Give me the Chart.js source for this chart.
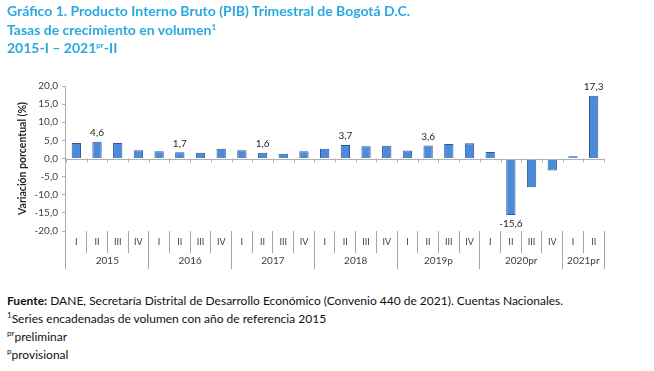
<!DOCTYPE html>
<html>
<head>
<meta charset="utf-8">
<script src="https://cdn.jsdelivr.net/npm/chart.js@4.4.1/dist/chart.umd.min.js"></script>
<style>
  body { margin: 0; background: #fff; width: 654px; height: 371px; overflow: hidden; position: relative; font-family: Lato, "Open Sans", sans-serif; }
  #title { position: absolute; left: 7px; top: 2px; color: #29a9e1; font-weight: bold; font-size: 14px; line-height: 18.5px; }
  #box { position: absolute; left: 0; top: 0; width: 654px; height: 285px; }
  #notes { position: absolute; left: 7px; top: 292px; color: #111; font-size: 12px; line-height: 18px; }
  sup { font-size: 8px; vertical-align: 5px; line-height: 0; }
</style>
</head>
<body>
<div id="box"><canvas id="pibChart"></canvas></div>
<div id="title">
  Gráfico 1. Producto Interno Bruto (PIB) Trimestral de Bogotá D.C.<br>
  Tasas de crecimiento en volumen<sup>1</sup><br>
  2015-I – 2021<sup>pr</sup>-II
</div>
<div id="notes">
  <b>Fuente:</b> DANE, Secretaría Distrital de Desarrollo Económico (Convenio 440 de 2021). Cuentas Nacionales.<br>
  <sup>1</sup>Series encadenadas de volumen con año de referencia 2015<br>
  <sup>pr</sup>preliminar<br>
  <sup>p</sup>provisional
</div>
<script>
// quarters 2015-I .. 2021-II
const quarters = ["I","II","III","IV","I","II","III","IV","I","II","III","IV","I","II","III","IV",
                  "I","II","III","IV","I","II","III","IV","I","II"];
const growth = [4.3, 4.6, 4.3, 2.3, 2.0, 1.7, 1.6, 2.7, 2.3, 1.6, 1.3, 2.0,
                2.7, 3.7, 3.4, 3.5, 2.2, 3.6, 4.0, 4.2, 1.8, -15.6, -7.9, -3.3, 0.6, 17.3];
const labelled = [1, 5, 9, 13, 17, 21, 25];
// year groups: [first quarter index, quarter count, label]
const years = [[0, 4, "2015"], [4, 4, "2016"], [8, 4, "2017"], [12, 4, "2018"],
               [16, 4, "2019p"], [20, 4, "2020pr"], [24, 2, "2021pr"]];
const yTicks = [-20, -15, -10, -5, 0, 5, 10, 15, 20];

const fmt = v => v.toFixed(1).replace('.', ',');
const axisGray = '#b0b0b0';
const sepGray = '#a6a6a6';

const yearTicks = [];
years.forEach(y => {
  yearTicks.push({ value: y[0], label: '' });
  yearTicks.push({ value: y[0] + y[1] / 2, label: y[2] });
});
yearTicks.push({ value: quarters.length, label: '' });

const extras = {
  id: 'extras',
  afterDatasetsDraw(chart) {
    const ctx = chart.ctx, xs = chart.scales.x, ys = chart.scales.y;
    const y0 = ys.getPixelForValue(0);
    ctx.save();
    ctx.strokeStyle = axisGray;
    ctx.lineWidth = 1;
    ctx.beginPath();
    ctx.moveTo(chart.chartArea.left, Math.round(y0) + 0.5);
    ctx.lineTo(chart.chartArea.right, Math.round(y0) + 0.5);
    for (let i = 0; i <= quarters.length; i++) {
      const x = Math.round(xs.getPixelForValue(i - 0.5)) + 0.5;
      ctx.moveTo(x, y0);
      ctx.lineTo(x, y0 + 4);
    }
    ctx.stroke();
    const meta = chart.getDatasetMeta(0);
    ctx.fillStyle = '#262626';
    ctx.font = '10px Lato, sans-serif';
    ctx.textAlign = 'center';
    labelled.forEach(i => {
      const bar = meta.data[i], v = growth[i];
      if (v >= 0) { ctx.textBaseline = 'bottom'; ctx.fillText(fmt(v), bar.x, bar.y - 4); }
      else { ctx.textBaseline = 'top'; ctx.fillText(fmt(v), bar.x, bar.y + 4); }
    });
    ctx.restore();
  }
};

const ctx = document.getElementById('pibChart').getContext('2d');
new Chart(ctx, {
  type: 'bar',
  data: {
    labels: quarters,
    datasets: [{
      data: growth,
      backgroundColor: function (c) {
        const bar = c.element;
        if (!bar || bar.x === undefined) return '#4d8ad8';
        const g = c.chart.ctx.createLinearGradient(bar.x - 5, 0, bar.x + 5, 0);
        g.addColorStop(0, '#6aa3ea');
        g.addColorStop(0.45, '#4f8bdc');
        g.addColorStop(1, '#2f68b8');
        return g;
      },
      borderColor: '#2b5a9c',
      borderWidth: 1,
      barPercentage: 0.45,
      categoryPercentage: 1
    }]
  },
  options: {
    responsive: true,
    maintainAspectRatio: false,
    animation: false,
    layout: { padding: { top: 86, left: 14, right: 50, bottom: 16 } },
    plugins: { legend: { display: false }, tooltip: { enabled: false } },
    scales: {
      y: {
        min: -20, max: 20,
        afterBuildTicks: s => { s.ticks = yTicks.map(v => ({ value: v })); },
        ticks: { callback: v => fmt(v), color: '#404040', font: { size: 10, family: 'Lato' }, padding: 4 },
        grid: { drawOnChartArea: false, tickLength: 4, color: axisGray },
        border: { color: axisGray },
        title: { display: true, text: 'Variación porcentual (%)', color: '#262626',
                 font: { size: 10.5, weight: 'bold', family: 'Lato' }, padding: 2 }
      },
      x: {
        position: 'bottom',
        afterFit: s => { s.height = 22; },
        ticks: { color: '#404040', font: { size: 9, family: 'Lato' }, padding: -16, maxRotation: 0, autoSkip: false },
        grid: { offset: true, drawOnChartArea: false, tickLength: 22, color: sepGray },
        border: { display: false }
      },
      x2: {
        type: 'linear',
        position: 'bottom',
        offset: false,
        min: 0, max: quarters.length,
        afterFit: s => { s.height = 16; },
        afterBuildTicks: s => { s.ticks = yearTicks.map(t => ({ value: t.value })); },
        ticks: {
          callback: (v) => { const t = yearTicks.find(t => t.value === v); return t ? t.label : ''; },
          color: '#404040', font: { size: 10, family: 'Lato' }, padding: -14, maxRotation: 0, autoSkip: false
        },
        grid: {
          offset: false, drawOnChartArea: false, tickLength: 16,
          color: c => (c.tick && yearTicks.find(t => t.value === c.tick.value && t.label === '')) ? sepGray : 'rgba(0,0,0,0)'
        },
        border: { display: false }
      }
    }
  },
  plugins: [extras]
});
</script>
</body>
</html>
